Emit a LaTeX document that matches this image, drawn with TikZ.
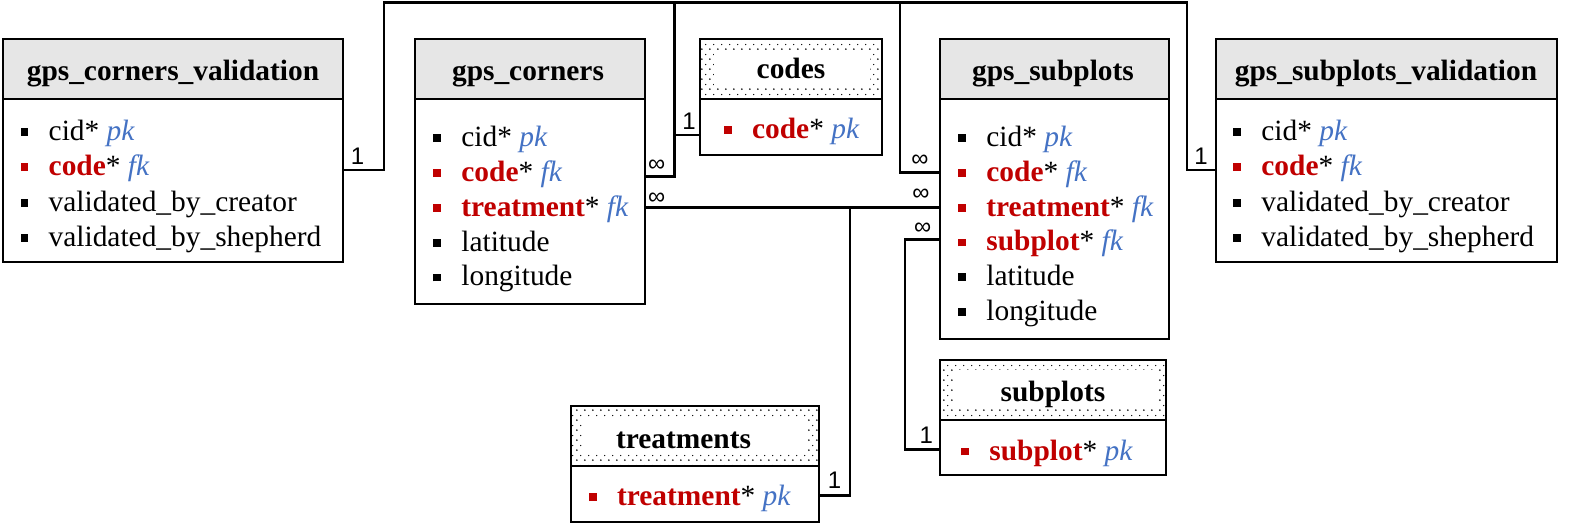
\documentclass[tikz,border=0pt]{standalone}
\usepackage{fontspec}
\setmainfont{Liberation Serif}
\newfontfamily\lblfont{Liberation Sans}
\usetikzlibrary{patterns.meta,calc}
\definecolor{hdrgray}{HTML}{E6E6E6}
\definecolor{keyred}{HTML}{C00000}
\definecolor{keyblue}{HTML}{4472C4}
\tikzdeclarepattern{
  name=erdots,
  type=uncolored,
  bounding box={(0pt,0pt) and (4.17pt,5pt)},
  tile size={(4.17pt,5pt)},
  code={\fill (1pt,1pt) circle (0.5pt); \fill (3.08pt,3.5pt) circle (0.38pt);}
}
\newcommand\erbul[1]{\textcolor{#1}{\rule[2.3pt]{3.9pt}{3.9pt}}\hspace{10.1pt}}
\newcommand\erpk{\textcolor{keyblue}{\itshape pk}}
\newcommand\erfk{\textcolor{keyblue}{\itshape fk}}
\newcommand\erkey[1]{\textcolor{keyred}{\bfseries #1}}
\begin{document}
\begin{tikzpicture}[x=0.5pt,y=-0.5pt,
  font=\fontsize{14.7pt}{17pt}\selectfont,
  box/.style={draw, line width=1pt, inner sep=0pt, outer sep=0pt, anchor=north west},
  hdr/.style={box, fill=hdrgray, minimum height=30pt},
  dothdr/.style={box, fill=white, pattern=erdots, pattern color=black, minimum height=30pt},
  body/.style={box, fill=white},
  title/.style={anchor=base, inner sep=0pt, font=\fontsize{14.7pt}{17pt}\selectfont\bfseries},
  rowtxt/.style={anchor=base west, inner sep=0pt},
  link/.style={line width=1.4pt},
  card/.style={inner sep=0pt, font=\lblfont\fontsize{12pt}{14pt}\selectfont}]
\useasboundingbox (0,0) rectangle (1581,531);

% ---------- gps_corners_validation
\node[hdr, minimum width=170pt] (gcv-h) at (3,39) {};
\node[body, minimum width=170pt, minimum height=81.5pt] (gcv) at (3,99) {};
\node[title] (gcv-t) at (173,80) {gps\_corners\_validation};
\node[rowtxt] (gcv-r1) at (20.3,140.5) {\erbul{black}cid* \erpk};
\node[rowtxt] (gcv-r2) at (20.3,175.8) {\erbul{keyred}\erkey{code}* \erfk};
\node[rowtxt] (gcv-r3) at (20.3,211.1) {\erbul{black}validated\_by\_creator};
\node[rowtxt] (gcv-r4) at (20.3,246.4) {\erbul{black}validated\_by\_shepherd};

% ---------- gps_corners
\node[hdr, minimum width=115pt] (gc-h) at (415,39) {};
\node[body, minimum width=115pt, minimum height=102.5pt] (gc) at (415,99) {};
\node[title] (gc-t) at (528,80) {gps\_corners};
\node[rowtxt] (gc-r1) at (433,146.7) {\erbul{black}cid* \erpk};
\node[rowtxt] (gc-r2) at (433,181.5) {\erbul{keyred}\erkey{code}* \erfk};
\node[rowtxt] (gc-r3) at (433,216.3) {\erbul{keyred}\erkey{treatment}* \erfk};
\node[rowtxt] (gc-r4) at (433,251.1) {\erbul{black}latitude};
\node[rowtxt] (gc-r5) at (433,285.9) {\erbul{black}longitude};

% ---------- codes
\node[dothdr, minimum width=91pt] (codes-h) at (700,39) {};
\fill[white] ($(codes-h.north west)+(14,11)$) rectangle ($(codes-h.south east)+(-12,-11)$);
\node[body, minimum width=91pt, minimum height=27.85pt] (codes) at (700,99) {};
\node[title] (codes-t) at (791,78) {codes};
\node[rowtxt] (codes-r1) at (723.7,138.3) {\erbul{keyred}\erkey{code}* \erpk};

% ---------- gps_subplots
\node[hdr, minimum width=114.5pt] (gs-h) at (940,39) {};
\node[body, minimum width=114.5pt, minimum height=120pt] (gs) at (940,99) {};
\node[title] (gs-t) at (1053,80) {gps\_subplots};
\node[rowtxt] (gs-r1) at (958,146.5) {\erbul{black}cid* \erpk};
\node[rowtxt] (gs-r2) at (958,181.3) {\erbul{keyred}\erkey{code}* \erfk};
\node[rowtxt] (gs-r3) at (958,216.1) {\erbul{keyred}\erkey{treatment}* \erfk};
\node[rowtxt] (gs-r4) at (958,250.9) {\erbul{keyred}\erkey{subplot}* \erfk};
\node[rowtxt] (gs-r5) at (958,285.7) {\erbul{black}latitude};
\node[rowtxt] (gs-r6) at (958,320.5) {\erbul{black}longitude};

% ---------- gps_subplots_validation
\node[hdr, minimum width=170.6pt] (gsv-h) at (1215.5,39) {};
\node[body, minimum width=170.6pt, minimum height=81.65pt] (gsv) at (1215.5,99) {};
\node[title] (gsv-t) at (1386,80) {gps\_subplots\_validation};
\node[rowtxt] (gsv-r1) at (1233,140.5) {\erbul{black}cid* \erpk};
\node[rowtxt] (gsv-r2) at (1233,175.8) {\erbul{keyred}\erkey{code}* \erfk};
\node[rowtxt] (gsv-r3) at (1233,211.1) {\erbul{black}validated\_by\_creator};
\node[rowtxt] (gsv-r4) at (1233,246.4) {\erbul{black}validated\_by\_shepherd};

% ---------- treatments
\node[dothdr, minimum width=124.15pt] (trt-h) at (571,405.7) {};
\fill[white] ($(trt-h.north west)+(12,12)$) rectangle ($(trt-h.south east)+(-11,-13)$);
\node[body, minimum width=124.15pt, minimum height=28pt] (trt) at (571,465.7) {};
\node[title] (trt-t) at (683.5,448.3) {treatments};
\node[rowtxt] (trt-r1) at (588.7,505.7) {\erbul{keyred}\erkey{treatment}* \erpk};

% ---------- subplots
\node[dothdr, minimum width=112.85pt] (sub-h) at (940,360) {};
\fill[white] ($(sub-h.north west)+(14,10)$) rectangle ($(sub-h.south east)+(-9,-12)$);
\node[body, minimum width=112.85pt, minimum height=27.5pt] (sub) at (940,420) {};
\node[title] (sub-t) at (1053,401.7) {subplots};
\node[rowtxt] (sub-r1) at (961,460) {\erbul{keyred}\erkey{subplot}* \erpk};

% ---------- connectors
\coordinate (jA) at (384,2.5);
\coordinate (jB) at (674.3,2.5);
\coordinate (jC) at (900,2.5);
\coordinate (jD) at (1187,2.5);
\coordinate (jT) at (850,207.3);
\coordinate (jS) at (905,239.3);

\draw[link] ($(gcv.north east)+(0,71)$) -| (jA) -- (jD) |- ($(gsv.north west)+(0,71)$);
\draw[link] ($(gc.north east)+(0,77.7)$) -| (jB);
\draw[link] ($(codes.north west)+(0,36)$) -| (jB);
\draw[link] ($(gs.north west)+(0,73.3)$) -| (jC);
\draw[link] ($(gc.north east)+(0,108.3)$) -- ($(gs.north west)+(0,108.3)$);
\draw[link] ($(trt.north east)+(0,30)$) -| (jT);
\draw[link] ($(gs.north west)+(0,140.3)$) -| (jS) |- ($(sub.north west)+(0,29.3)$);

% ---------- cardinalities
\node[card] (c-gcv) at (357.5,156) {1};
\node[card] (c-gc1) at (656.7,165.7) {∞};
\node[card] (c-codes) at (689,121) {1};
\node[card] (c-gc2) at (656.7,199) {∞};
\node[card] (c-gs1) at (920,160.7) {∞};
\node[card] (c-gs2) at (921,194.3) {∞};
\node[card] (c-gs3) at (922.7,228.3) {∞};
\node[card] (c-gsv) at (1201,155.8) {1};
\node[card] (c-trt) at (834.5,480) {1};
\node[card] (c-sub) at (926.3,435.7) {1};
\end{tikzpicture}
\end{document}
